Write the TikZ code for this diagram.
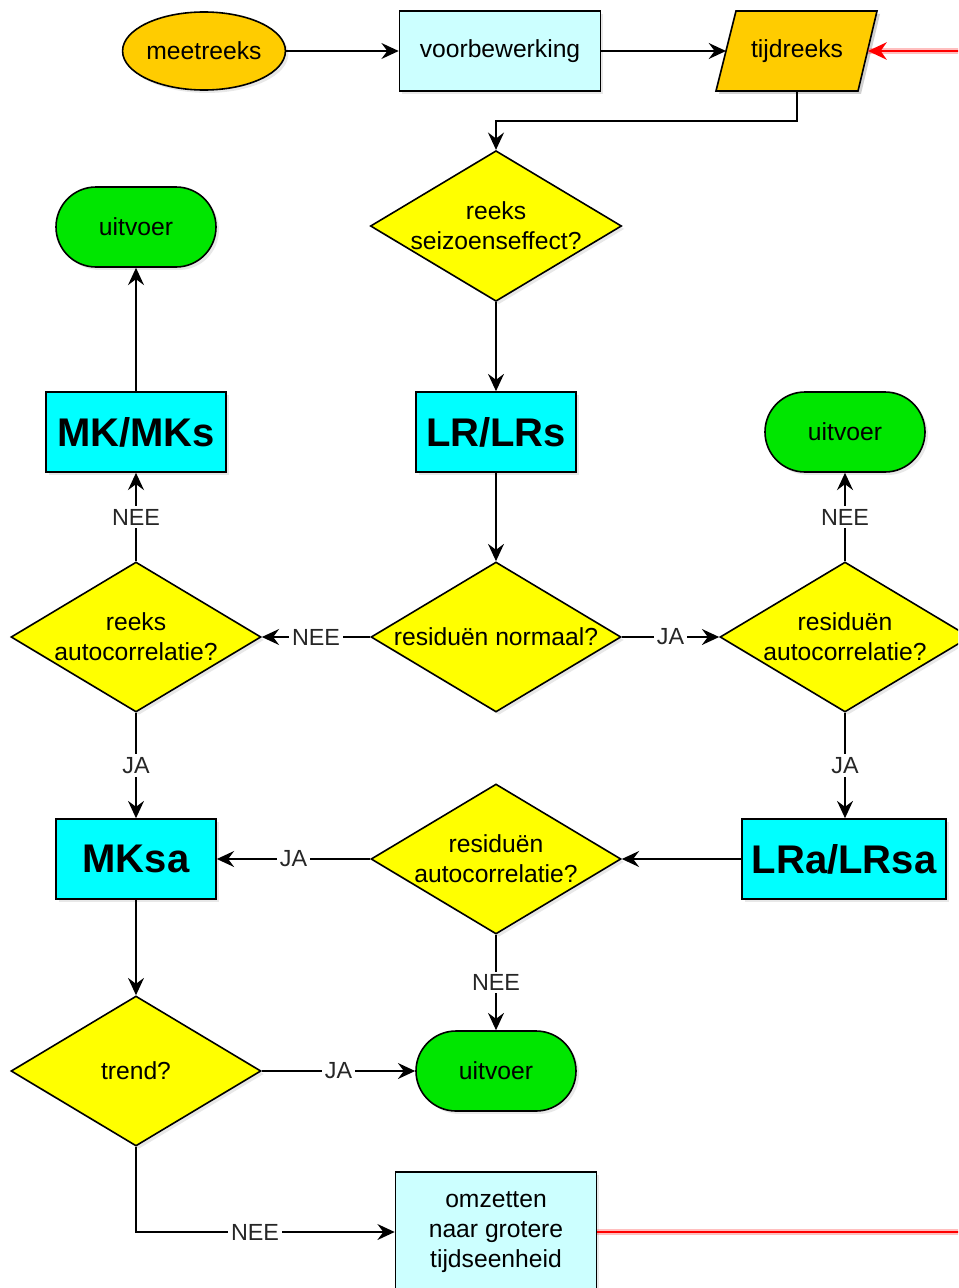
\documentclass[tikz,border=0pt]{standalone}
\usepackage{fontspec}
\setmainfont{Liberation Sans}
\usetikzlibrary{shapes.geometric,shapes.misc,arrows.meta,shadows}
\definecolor{orangeF}{HTML}{FFCC00}
\definecolor{lcyan}{HTML}{CCFFFF}
\definecolor{yelF}{HTML}{FFFF00}
\definecolor{cyanF}{HTML}{00FFFF}
\definecolor{greenF}{HTML}{00E600}
\begin{document}
\begin{tikzpicture}[x=0.75pt,y=-0.75pt,
  every node/.style={font=\fontsize{18.5}{22.5}\selectfont, align=center, text=black},
  sh/.style={drop shadow={shadow xshift=2.2pt, shadow yshift=-2.2pt, opacity=0.18}},
  base/.style={draw=black, line width=1.2pt, sh, inner sep=0pt},
  oval/.style={base, ellipse, fill=orangeF, minimum width=120pt, minimum height=58.5pt},
  pbox/.style={base, rectangle, fill=lcyan},
  bigbox/.style={base, rectangle, fill=cyanF, minimum height=60pt, font=\fontsize{30}{34}\selectfont\bfseries},
  dia/.style={base, diamond, fill=yelF, aspect=1.667, minimum width=187.5pt, minimum height=112.5pt},
  term/.style={base, rounded rectangle, fill=greenF, minimum width=120pt, minimum height=60pt},
  edge/.style={draw=black, line width=1.3pt, -{Stealth[length=13pt, width=12pt, inset=4.5pt]}},
  lbl/.style={fill=white, inner sep=2.2pt, font=\fontsize{17.5}{20}\selectfont, text=black!85},
  rededge/.style={draw=red, line width=2.2pt},
  redglow/.style={draw=red, line width=5pt, opacity=0.25}
]
\useasboundingbox (0,0) rectangle (958,1288);
\clip (0,0) rectangle (958,1288);

% top row
\node[oval] (mee) at (204,51) {meetreeks};
\node[pbox, minimum width=150.75pt, minimum height=60pt] (voor) at (500,51) {voorbewerking};
\fill[black, opacity=0.18, shift={(3,3)}] (716,91) -- (858,91) -- (877,11) -- (736,11) -- cycle;
\filldraw[fill=orangeF, draw=black, line width=1.2pt] (716,91) -- (858,91) -- (877,11) -- (736,11) -- cycle;
\node (tij) at (797,51) {tijdreeks};
\coordinate (tijL) at (726,51);
\coordinate (tijR) at (868,51);
\coordinate (tijB) at (797,91);
\coordinate (redin) at (960,51);

% main nodes
\node[dia] (d1) at (496,226) {reeks\\seizoenseffect?};
\node[bigbox, minimum width=120pt] (lr) at (496,432) {LR/LRs};
\node[dia] (rn) at (496,637) {residuën normaal?};
\node[dia] (ra) at (136,637) {reeks\\autocorrelatie?};
\node[dia] (rra) at (845,637) {residuën\\autocorrelatie?};
\node[bigbox, minimum width=135pt] (mk) at (136,432) {MK/MKs};
\node[term] (u1) at (136,227) {uitvoer};
\node[term] (u2) at (845,432) {uitvoer};
\node[bigbox, minimum width=153pt] (lra) at (844,859) {LRa/LRsa};
\node[dia] (mra) at (496,859) {residuën\\autocorrelatie?};
\node[bigbox, minimum width=120pt] (mksa) at (136,859) {MKsa};
\node[dia] (tr) at (136,1071) {trend?};
\node[term] (u3) at (496,1071) {uitvoer};
\node[pbox, minimum width=150.75pt, minimum height=90pt] (omz) at (496,1232) {omzetten\\naar grotere\\tijdseenheid};
\coordinate (redout) at (960,1232);

% connectors
\draw[edge] (mee) -- (voor);
\draw[edge] (voor) -- (tijL);
\draw[redglow] (redin) -- (tijR);
\draw[rededge, -{Stealth[length=14pt, width=13pt, inset=4.5pt]}] (redin) -- (tijR);
\draw[edge] (tijB) -- ++(0,30) -| (d1.north);
\draw[edge] (d1) -- (lr);
\draw[edge] (lr) -- (rn);
\draw[edge] (rn.west) -- node[lbl]{NEE} (ra.east);
\draw[edge] (rn.east) -- node[lbl]{JA} (rra.west);
\draw[edge] (rra.north) -- node[lbl]{NEE} (u2.south);
\draw[edge] (rra.south) -- node[lbl]{JA} (rra.south |- lra.north);
\draw[edge] (lra.west) -- (mra.east);
\draw[edge] (mra.west) -- node[lbl]{JA} (mksa.east);
\draw[edge] (mra.south) -- node[lbl]{NEE} (u3.north);
\draw[edge] (ra.north) -- node[lbl]{NEE} (mk.south);
\draw[edge] (ra.south) -- node[lbl]{JA} (mksa.north);
\draw[edge] (mk) -- (u1);
\draw[edge] (mksa) -- (tr);
\draw[edge] (tr.east) -- node[lbl]{JA} (u3.west);
\draw[edge] (tr.south) |- node[lbl, pos=0.73]{NEE} (omz.west);
\draw[redglow] (omz.east) -- (redout);
\draw[rededge] (omz.east) -- (redout);
\end{tikzpicture}
\end{document}
